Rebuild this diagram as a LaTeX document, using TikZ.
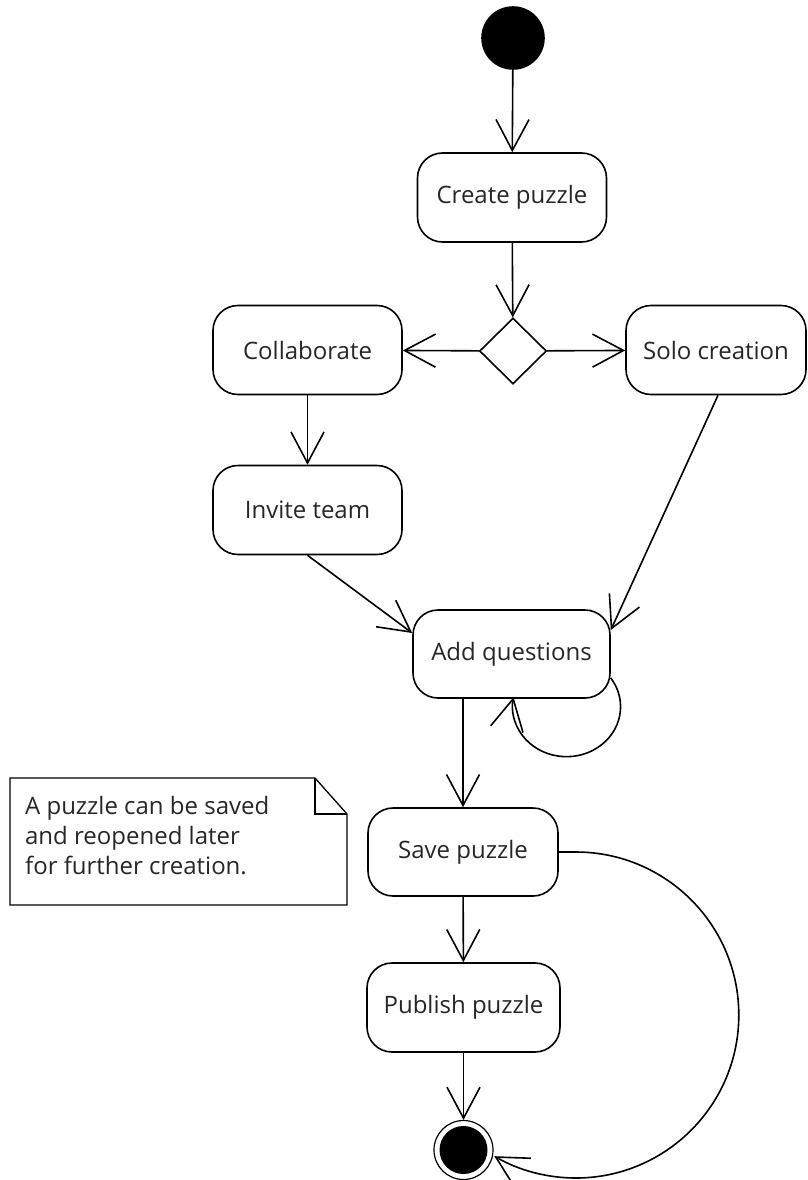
\documentclass[tikz,border=0pt]{standalone}
\usepackage{fontspec}
\setmainfont{Open Sans}
\usetikzlibrary{arrows.meta,shapes.geometric}

\begin{document}
\begin{tikzpicture}[x=1pt,y=-1pt,
  line width=1.6pt,
  txt/.style={font=\fontsize{24}{30}\selectfont, text=black!85},
  action/.style={txt, draw, rectangle, rounded corners=25pt, inner sep=0pt,
                 minimum width=#1, minimum height=89pt},
  action/.default=189pt,
  arr/.style={-{Straight Barb[length=31pt,width=33pt]}},
  initial/.style={circle, fill=black, draw=black, minimum size=62pt, inner sep=0pt},
  final/.style={circle, draw=black, line width=1.2pt, minimum size=59pt, inner sep=0pt,
                path picture={\fill[black] (path picture bounding box.center) circle (24pt);}},
  choice/.style={diamond, draw, aspect=1, inner sep=0pt, minimum width=67pt, minimum height=66pt},
]
\useasboundingbox (0,0) rectangle (807,1180);

% activity nodes
\node[initial] (start) at (513,38) {};
\node[action] (create) at (512,197.5) {Create puzzle};
\node[choice] (dec) at (513,351) {};
\node[action] (collab) at (307.5,350) {Collaborate};
\node[action=180pt] (solo) at (716,350) {Solo creation};
\node[action] (invite) at (307.5,510) {Invite team};
\node[action=197pt, minimum height=88pt] (aq) at (511.5,654) {Add questions};
\node[action=190pt, minimum height=88pt] (save) at (463,852) {Save puzzle};
\node[action=193pt] (publish) at (463.5,1007.5) {Publish puzzle};
\node[final] (stop) at (463.5,1150) {};

% comment note with folded corner
\draw[line width=1.3pt] (10,778) -- (315,778) -- (347,814) -- (347,905) -- (10,905) -- cycle;
\draw[line width=1.3pt] (315,778) -- (315,814) -- (347,814);
\node[txt, align=left, anchor=west] (note) at (21,836)
  {A puzzle can be saved\\and reopened later\\for further creation.};

% control flow
\draw[arr] (start) -- (create);
\draw[arr] (create) -- (dec);
\draw[arr] (dec) -- (collab);
\draw[arr] (dec) -- (solo);
\draw[arr] (collab) -- (invite);
\draw[arr] (invite.south) -- ([yshift=21pt]aq.west);
\draw[arr] ([xshift=2pt]solo.south) -- ([yshift=24pt]aq.east);
\draw[arr] ([yshift=-24pt]aq.east) arc[start angle=35, end angle=-191, x radius=54pt, y radius=50pt];
\draw[arr] (save.north |- aq.south) -- (save.north);
\draw[arr] (save) -- (publish);
\draw[arr] (publish) -- (stop);
\draw[arr] (save.east) -- ++(17,0) arc[start angle=90, end angle=-120, radius=163pt];
\end{tikzpicture}
\end{document}
